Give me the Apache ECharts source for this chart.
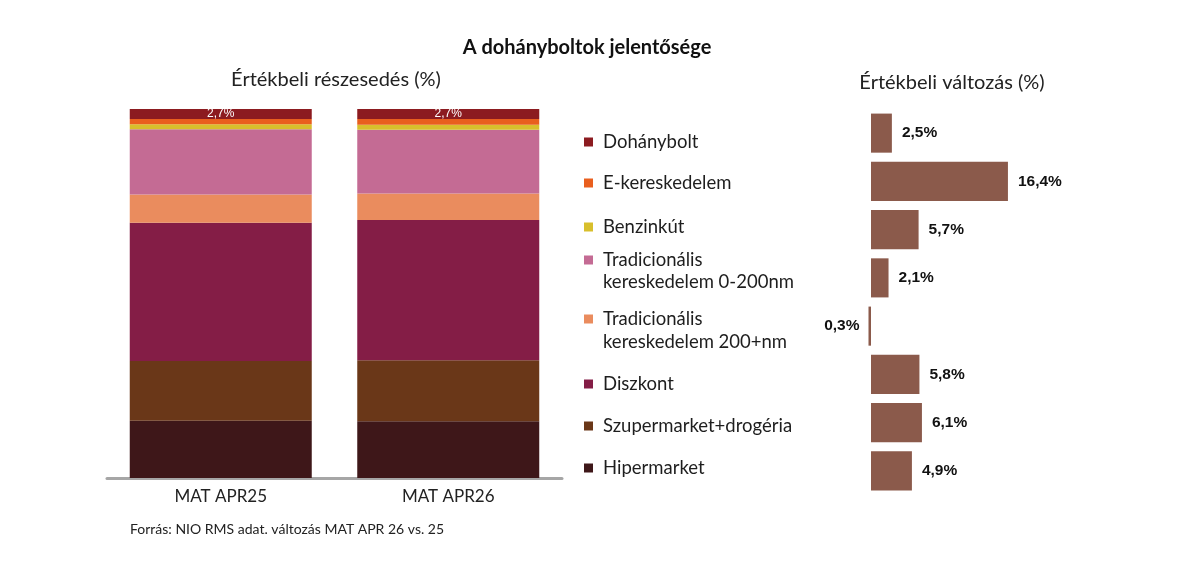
<!DOCTYPE html>
<html>
<head>
<meta charset="utf-8">
<title>A dohányboltok jelentősége</title>
<script src="https://cdn.jsdelivr.net/npm/echarts@6/dist/echarts.min.js"></script>
<style>
  html, body { margin: 0; padding: 0; background: #fff; }
  #chart { width: 1200px; height: 579px; }
</style>
</head>
<body>
<div id="chart"></div>
<script>
// periods on the left chart
var periods = ['MAT APR25', 'MAT APR26'];
// channels, top to bottom as in the legend
var channels = [
  'Dohánybolt',
  'E-kereskedelem',
  'Benzinkút',
  'Tradicionális kereskedelem 0-200nm',
  'Tradicionális kereskedelem 200+nm',
  'Diszkont',
  'Szupermarket+drogéria',
  'Hipermarket'
];
// value share (%) per channel
var share25 = [2.7, 1.4, 1.4, 17.7, 7.6, 37.5, 16.2, 15.5];
var share26 = [2.7, 1.6, 1.3, 17.3, 7.2, 38.0, 16.5, 15.4];
// value change (%) MAT APR26 vs APR25
var change = [2.5, 16.4, 5.7, 2.1, -0.3, 5.8, 6.1, 4.9];

var colors = ['#8c1b20', '#e95f1e', '#d8bf2c', '#c46b94', '#ea8c5e', '#841d46', '#6a3718', '#3e1719'];
var font = 'Lato';

function pct(v) {
  return Math.abs(v).toFixed(1).replace('.', ',') + '%';
}

var chart = echarts.init(document.getElementById('chart'));

// stacked series, bottom first
var series = [];
for (var i = channels.length - 1; i >= 0; i--) {
  series.push({
    name: channels[i],
    type: 'bar',
    stack: 'share',
    xAxisIndex: 0,
    yAxisIndex: 0,
    barCategoryGap: '20%',
    itemStyle: { color: colors[i] },
    label: {
      show: i === 0,
      position: 'inside',
      color: '#fff',
      fontFamily: 'Liberation Sans',
      fontSize: 12,
      formatter: function (p) { return pct(p.value); }
    },
    data: [share25[i], share26[i]]
  });
}

series.push({
  name: 'Értékbeli változás',
  type: 'bar',
  xAxisIndex: 1,
  yAxisIndex: 1,
  barCategoryGap: '19%',
  itemStyle: { color: '#8b5a4b' },
  label: {
    show: true,
    position: 'right',
    distance: 10,
    color: '#111',
    fontFamily: 'Liberation Sans',
    fontWeight: 'bold',
    fontSize: 15.5,
    formatter: function (p) { return pct(p.value); }
  },
  data: change.map(function (v) {
    return v < 0 ? { value: v, label: { position: 'left', distance: 9 } } : v;
  })
});

// one legend per channel so rows can sit where the reference puts them
var legendTops = [142, 183, 227, 260, 319, 384, 426, 468];
var legendText = ['Dohánybolt', 'E-kereskedelem', 'Benzinkút', 'Tradicionális', 'Tradicionális',
  'Diszkont', 'Szupermarket+drogéria', 'Hipermarket'];
var legends = channels.map(function (name, i) {
  return {
    data: [name],
    left: 584,
    top: legendTops[i] - 10,
    padding: 0,
    icon: 'rect',
    itemWidth: 9,
    itemHeight: 9,
    selectedMode: false,
    formatter: function () { return legendText[i]; },
    textStyle: { fontFamily: font, fontSize: 18.5, color: '#1e1e1e', lineHeight: 20, padding: [0, 0, 0, 5] }
  };
});

var option = {
  backgroundColor: '#fff',
  animation: false,
  title: [
    { text: 'A dohányboltok jelentősége', left: 587, top: 38, padding: 0, textAlign: 'center',
      textStyle: { fontFamily: font, fontSize: 20, fontWeight: 'bold', color: '#111' } },
    { text: 'Értékbeli részesedés (%)', left: 336, top: 70, padding: 0, textAlign: 'center',
      textStyle: { fontFamily: font, fontSize: 20, fontWeight: 'normal', color: '#222' } },
    { text: 'Értékbeli változás (%)', left: 952, top: 73, padding: 0, textAlign: 'center',
      textStyle: { fontFamily: font, fontSize: 20, fontWeight: 'normal', color: '#222' } },
    { text: 'Forrás: NIO RMS adat. változás MAT APR 26 vs. 25', left: 130, top: 522, padding: 0,
      textStyle: { fontFamily: font, fontSize: 14, fontWeight: 'normal', color: '#222' } }
  ],
  legend: legends,
  graphic: [
    { type: 'text', left: 603, top: 273,
      style: { text: 'kereskedelem 0-200nm', font: '18.5px Lato', fill: '#1e1e1e' } },
    { type: 'text', left: 603, top: 333,
      style: { text: 'kereskedelem 200+nm', font: '18.5px Lato', fill: '#1e1e1e' } }
  ],
  grid: [
    { left: 107, right: 638, top: 109, bottom: 101 },
    { left: 862.65, right: 162, top: 109, bottom: 84 }
  ],
  xAxis: [
    {
      type: 'category', gridIndex: 0, data: periods,
      axisTick: { show: false },
      axisLine: { lineStyle: { color: '#a6a6a6', width: 3 } },
      axisLabel: { fontFamily: font, fontSize: 17, color: '#222', margin: 10 }
    },
    { type: 'value', gridIndex: 1, min: -1, max: 20, show: false }
  ],
  yAxis: [
    { type: 'value', gridIndex: 0, min: 0, max: 100, show: false },
    { type: 'category', gridIndex: 1, data: channels, inverse: true, show: false }
  ],
  series: series
};

chart.setOption(option);
</script>
</body>
</html>
